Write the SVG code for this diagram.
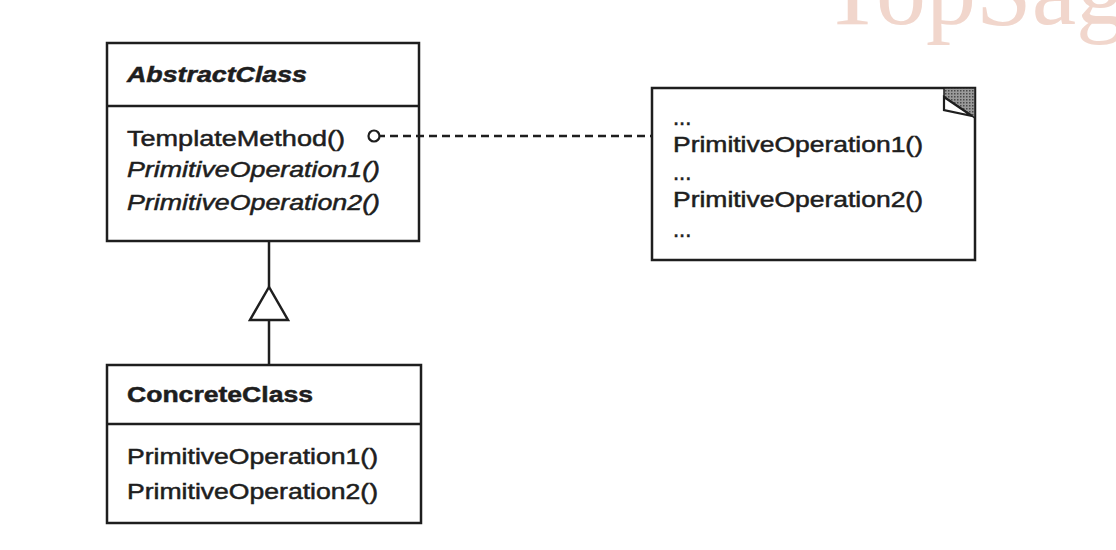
<svg xmlns="http://www.w3.org/2000/svg" width="1116" height="550" viewBox="0 0 1116 550">
  <defs>
    <style>
      .box { fill: #ffffff; stroke: #1e1e1e; stroke-width: 2.5; }
      .sep { stroke: #1e1e1e; stroke-width: 2.5; fill: none; }
      .t { font-family: "Liberation Sans", Arial, sans-serif; font-size: 22px; fill: #1e1e1e; stroke: #1e1e1e; stroke-width: 0.5; }
      .it { font-style: italic; }
      .b { font-weight: bold; }
      .conn { stroke: #1e1e1e; stroke-width: 2.5; fill: none; }
      .dash { stroke: #1e1e1e; stroke-width: 2.5; fill: none; stroke-dasharray: 8 5; }
      .wm { font-family: "Liberation Serif", "Times New Roman", serif; font-size: 100px; fill: #f1d6cc; }
    </style>
    <pattern id="hatch" width="3" height="3" patternUnits="userSpaceOnUse">
      <rect width="3" height="3" fill="#9a9a9a"/>
      <rect width="1.5" height="1.5" fill="#4a4a4a"/>
    </pattern>
  </defs>
  <rect width="1116" height="550" fill="#ffffff"/>
  <text class="wm" x="822" y="24">TopSag</text>

  <g id="AbstractClass">
    <rect class="box" x="107" y="43" width="312" height="198"/>
    <line class="sep" x1="107" y1="106" x2="419" y2="106"/>
    <text class="t b it" x="127" y="82" textLength="180" lengthAdjust="spacingAndGlyphs">AbstractClass</text>
    <text class="t" x="127" y="146" textLength="218" lengthAdjust="spacingAndGlyphs">TemplateMethod()</text>
    <text class="t it" x="127" y="177" textLength="253" lengthAdjust="spacingAndGlyphs">PrimitiveOperation1()</text>
    <text class="t it" x="127" y="210" textLength="253" lengthAdjust="spacingAndGlyphs">PrimitiveOperation2()</text>
  </g>

  <g id="ConcreteClass">
    <rect class="box" x="107" y="365" width="314" height="158"/>
    <line class="sep" x1="107" y1="424" x2="421" y2="424"/>
    <text class="t b" x="127" y="402" textLength="186" lengthAdjust="spacingAndGlyphs">ConcreteClass</text>
    <text class="t" x="127" y="464" textLength="251" lengthAdjust="spacingAndGlyphs">PrimitiveOperation1()</text>
    <text class="t" x="127" y="499" textLength="251" lengthAdjust="spacingAndGlyphs">PrimitiveOperation2()</text>
  </g>

  <g id="Note">
    <rect class="box" x="652" y="88" width="323" height="172"/>
    <polygon points="944,88 975,88 975,118 944,97" fill="url(#hatch)" stroke="#1e1e1e" stroke-width="1.5"/>
    <polygon points="944,97 972,116 944,110" fill="#ffffff" stroke="#1e1e1e" stroke-width="2.2"/>
    <text class="t" x="673" y="125">...</text>
    <text class="t" x="673" y="152" textLength="250" lengthAdjust="spacingAndGlyphs">PrimitiveOperation1()</text>
    <text class="t" x="673" y="180">...</text>
    <text class="t" x="673" y="207" textLength="250" lengthAdjust="spacingAndGlyphs">PrimitiveOperation2()</text>
    <text class="t" x="673" y="237">...</text>
  </g>

  <g id="connectors">
    <line class="conn" x1="269" y1="241" x2="269" y2="287"/>
    <polygon class="conn" points="269,287 250,320 288,320" fill="#ffffff"/>
    <line class="conn" x1="269" y1="320" x2="269" y2="365"/>
    <circle cx="374" cy="136" r="5.5" fill="#ffffff" stroke="#1e1e1e" stroke-width="2.2"/>
    <line class="conn" x1="379.5" y1="136" x2="385" y2="136"/>
    <line class="dash" x1="390" y1="136" x2="652" y2="136"/>
  </g>
</svg>
